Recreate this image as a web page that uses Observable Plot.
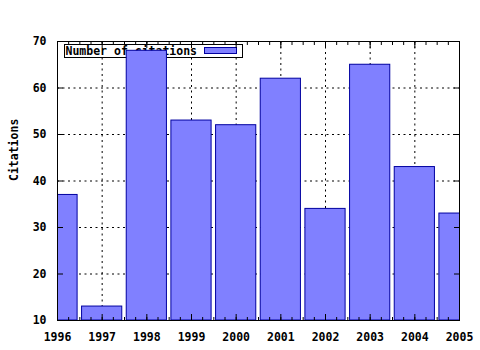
<!DOCTYPE html>
<html>
<head>
<meta charset="utf-8">
<script src="https://cdn.jsdelivr.net/npm/d3@7"></script>
<script src="https://cdn.jsdelivr.net/npm/@observablehq/plot@0.6"></script>
<style>
  html, body { margin: 0; padding: 0; background: white; }
</style>
</head>
<body>
<div id="chart"></div>
<script>
const years = [1996, 1997, 1998, 1999, 2000, 2001, 2002, 2003, 2004, 2005];
const citations = [37, 13, 68, 53, 52, 62, 34, 65, 43, 33];
const yTicks = [10, 20, 30, 40, 50, 60, 70];
const xTicks = years;
const xMinorTicks = d3.range(1996, 2005.001, 0.25);
const seriesName = "Number of citations";
const yLabel = "Citations";

const data = years.map((year, i) => ({year, value: citations[i]}));
const blank = () => "";
const font = {fontFamily: "DejaVu Sans Mono", fontWeight: "bold", fontSize: 11.5};

const chart = Plot.plot({
  width: 480,
  height: 350,
  marginLeft: 57,
  marginRight: 21,
  marginTop: 41,
  marginBottom: 30,
  x: {domain: [1996, 2005]},
  y: {domain: [10, 70]},
  style: {fontFamily: "DejaVu Sans Mono", fontWeight: "bold", fontSize: "11.5px", color: "black", background: "white"},
  marks: [
    Plot.gridX(xTicks, {stroke: "black", strokeOpacity: 1, strokeDasharray: "2,3.5"}),
    Plot.gridY(yTicks, {stroke: "black", strokeOpacity: 1, strokeDasharray: "2,3.5"}),
    // legend box
    Plot.frame({insetLeft: 7, insetTop: 3, insetRight: 217, insetBottom: 263, fill: "white", stroke: "black"}),
    Plot.text([seriesName], {frameAnchor: "top-left", dx: 8, dy: 10, textAnchor: "start", lineAnchor: "middle", fill: "black", ...font}),
    Plot.frame({insetLeft: 147, insetTop: 6, insetRight: 223, insetBottom: 267, fill: "#8080ff", stroke: "#0000a0"}),
    // bars
    Plot.rect(data, {x1: d => d.year - 0.45, x2: d => d.year + 0.45, y1: 10, y2: "value", fill: "#8080ff", stroke: "#0000a0", clip: true}),
    Plot.frame({stroke: "black"}),
    // y axis
    Plot.axisY(yTicks, {anchor: "left", tickSize: 0, tickPadding: 11, label: null, ...font}),
    Plot.axisY(yTicks, {anchor: "left", tickSize: -6, tickPadding: 0, tickFormat: blank, label: null}),
    Plot.axisY(yTicks, {anchor: "right", tickSize: -6, tickPadding: 0, tickFormat: blank, label: null}),
    // x axis
    Plot.axisX(xTicks, {anchor: "bottom", tickSize: 0, tickPadding: 12, tickFormat: "d", label: null, ...font}),
    Plot.axisX(xTicks, {anchor: "bottom", tickSize: -6, tickPadding: 0, tickFormat: blank, label: null}),
    Plot.axisX(xMinorTicks, {anchor: "bottom", tickSize: -3, tickPadding: 0, tickFormat: blank, label: null}),
    Plot.axisX(xTicks, {anchor: "top", tickSize: -6, tickPadding: 0, tickFormat: blank, label: null}),
    Plot.axisX(xMinorTicks, {anchor: "top", tickSize: -3, tickPadding: 0, tickFormat: blank, label: null}),
    // y label
    Plot.text([yLabel], {frameAnchor: "left", dx: -43, rotate: -90, fill: "black", ...font})
  ]
});
document.getElementById("chart").appendChild(chart);
</script>
</body>
</html>
